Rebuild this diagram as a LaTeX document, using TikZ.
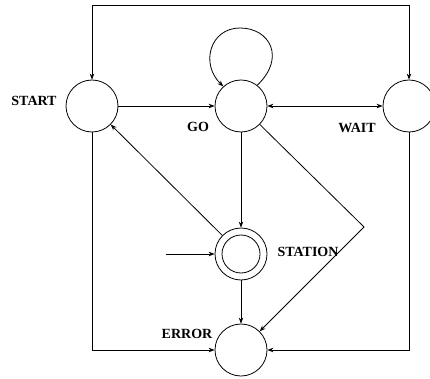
\documentclass[tikz,border=0pt]{standalone}
\usepackage{fontspec}
\setmainfont{Liberation Serif}
\usetikzlibrary{arrows.meta}

\tikzset{
  statenode/.style={circle, draw, minimum size=52pt, inner sep=0pt, line width=0.8pt},
  lbl/.style={font=\fontsize{14}{14}\selectfont\bfseries, inner sep=0pt},
  edge/.style={line width=0.8pt, -{Stealth[length=6pt,width=4.5pt]}},
  twoway/.style={line width=0.8pt, {Stealth[length=6pt,width=4.5pt]}-{Stealth[length=6pt,width=4.5pt]}}
}

\begin{document}
\begin{tikzpicture}[x=1pt, y=-1pt]
  \useasboundingbox (0,0) rectangle (430,379);

  % states
  \node[statenode] (start)   at (92,106)  {};
  \node[statenode] (go)      at (241,106) {};
  \node[statenode] (wait)    at (409,106) {};
  \node[statenode] (station) at (241,254) {};
  \node[statenode] (error)   at (241,350) {};
  \draw[line width=0.8pt] (station.center) circle[radius=19pt];

  % state names
  \node[lbl] (lstart)   at (34,101)  {START};
  \node[lbl] (lgo)      at (198,127) {GO};
  \node[lbl] (lwait)    at (357,128) {WAIT};
  \node[lbl] (lstation) at (308,252) {STATION};
  \node[lbl] (lerror)   at (187,334) {ERROR};

  % helper points for routed connectors
  \coordinate (topl) at (92,5);
  \coordinate (topr) at (409,5);
  \coordinate (bend) at (364,227);
  \coordinate (init) at (166,254);

  % transitions
  \draw[edge] (start) -- (go);
  \draw[twoway] (go) -- (wait);
  \draw[twoway] (start.north) -- (topl) -- (topr) -- (wait.north);
  \draw[edge] (go.52) .. controls (286,58) and (270,28) .. (240,28)
                      .. controls (210,28) and (200,64) .. (go.132);
  \draw[edge] (go) -- (station);
  \draw[edge] (station) -- (start);
  \draw[edge] (go) -- (bend) -- (error);
  \draw[edge] (init) -- (station);
  \draw[edge] (station) -- (error);
  \draw[edge] (start) |- (error);
  \draw[edge] (wait) |- (error);
\end{tikzpicture}
\end{document}
